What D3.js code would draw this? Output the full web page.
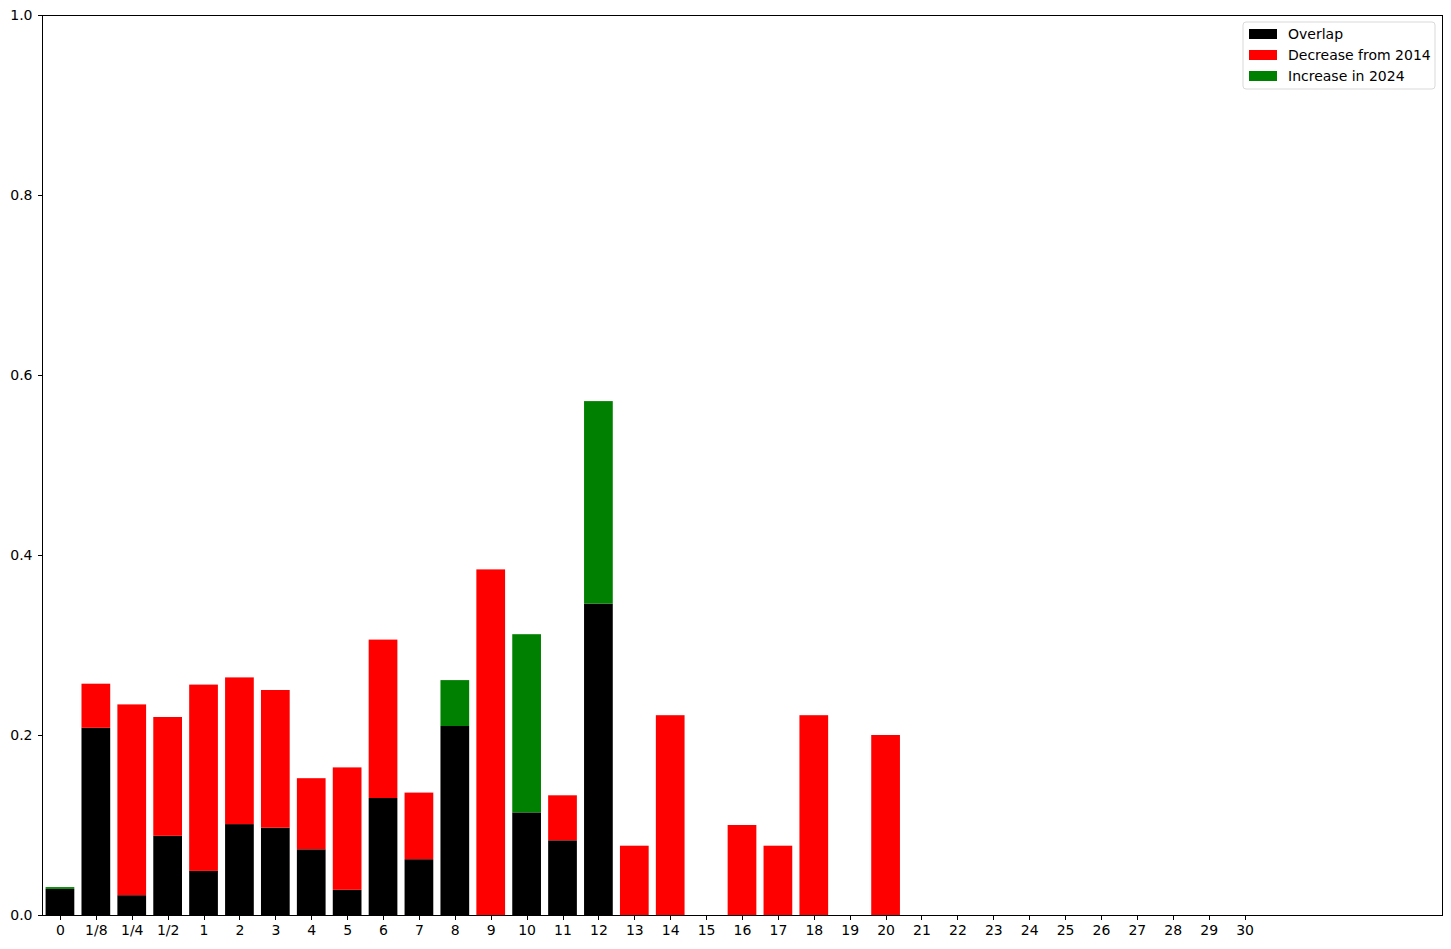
<!DOCTYPE html>
<html>
<head>
<meta charset="utf-8">
<script src="https://cdn.jsdelivr.net/npm/d3@7"></script>
<style>
  body { margin: 0; background: #fff; }
  text { font-family: "DejaVu Sans", sans-serif; }
</style>
</head>
<body>
<script>
var margin = { top: 15, right: 9, bottom: 34, left: 42 };
var width = 1451 - margin.left - margin.right;
var height = 949 - margin.top - margin.bottom;

var categories = ["0", "1/8", "1/4", "1/2", "1", "2", "3", "4", "5", "6", "7", "8", "9", "10",
    "11", "12", "13", "14", "15", "16", "17", "18", "19", "20", "21", "22", "23", "24", "25",
    "26", "27", "28", "29", "30"];

// bottom segment: share present in both years
var overlap = [0.029, 0.208, 0.022, 0.088, 0.049, 0.101, 0.097, 0.073, 0.028, 0.130, 0.062, 0.210,
    0, 0.114, 0.083, 0.346, 0, 0, 0, 0, 0, 0, 0, 0, 0, 0, 0, 0, 0, 0, 0, 0, 0, 0];
// top segment, red
var decrease = [0, 0.049, 0.212, 0.132, 0.207, 0.163, 0.153, 0.079, 0.136, 0.176, 0.074, 0,
    0.384, 0, 0.050, 0, 0.077, 0.222, 0, 0.100, 0.077, 0.222, 0, 0.200, 0, 0, 0, 0, 0, 0, 0, 0, 0, 0];
// top segment, green
var increase = [0.002, 0, 0, 0, 0, 0, 0, 0, 0, 0, 0, 0.051, 0, 0.198, 0, 0.225,
    0, 0, 0, 0, 0, 0, 0, 0, 0, 0, 0, 0, 0, 0, 0, 0, 0, 0];

var yTicks = [0, 0.2, 0.4, 0.6, 0.8, 1.0];

var series = [
    { name: "Overlap", color: "#000000" },
    { name: "Decrease from 2014", color: "#ff0000" },
    { name: "Increase in 2024", color: "#008000" }
];

var rows = categories.map(function (c, i) {
    return { cat: c, i: i, overlap: overlap[i], decrease: decrease[i], increase: increase[i] };
});

var svg = d3.select("body")
    .append("svg")
    .attr("width", width + margin.left + margin.right)
    .attr("height", height + margin.top + margin.bottom)
    .append("g")
    .attr("transform", "translate(" + margin.left + "," + margin.top + ")");

var xscale = d3.scaleLinear()
    .domain([-0.5, 38.5])
    .range([0, width]);

var yscale = d3.scaleLinear()
    .domain([0, 1])
    .range([height, 0]);

var barW = xscale(0.8) - xscale(0);

var stack = d3.stack().keys(["overlap", "decrease", "increase"]);
var layers = stack(rows);

var layer = svg.selectAll("g.layer")
    .data(layers)
    .enter().append("g")
    .attr("class", "layer")
    .style("fill", function (d, i) { return series[i].color; });

layer.selectAll("rect")
    .data(function (d) { return d; })
    .enter().append("rect")
    .attr("x", function (d) { return xscale(d.data.i) - barW / 2; })
    .attr("width", barW)
    .attr("y", function (d) { return yscale(d[1]); })
    .attr("height", function (d) { return yscale(d[0]) - yscale(d[1]); });

var xAxis = d3.axisBottom(xscale)
    .tickValues(d3.range(categories.length))
    .tickFormat(function (d) { return categories[d]; })
    .tickSizeOuter(0)
    .tickSize(4.5)
    .tickPadding(6);

var yAxis = d3.axisLeft(yscale)
    .tickValues(yTicks)
    .tickFormat(d3.format(".1f"))
    .tickSizeOuter(0)
    .tickSize(4.5)
    .tickPadding(5);

var gx = svg.append("g")
    .attr("class", "x axis")
    .attr("transform", "translate(0," + height + ")")
    .call(xAxis);
var gy = svg.append("g")
    .attr("class", "y axis")
    .call(yAxis);

gx.select(".domain").remove();
gy.select(".domain").remove();
svg.selectAll(".axis").attr("font-size", null).attr("font-family", null);
svg.selectAll(".axis text").style("font-size", "14px").style("fill", "#000");
svg.selectAll(".axis line").style("stroke", "#000").style("stroke-width", 1)
    .style("shape-rendering", "crispEdges");

// frame
svg.append("rect")
    .attr("x", 0)
    .attr("y", 0)
    .attr("width", width)
    .attr("height", height)
    .style("fill", "none")
    .style("stroke", "#000")
    .style("stroke-width", 1)
    .style("shape-rendering", "crispEdges");

// legend
var legW = 192, legH = 67;
var legend = svg.append("g")
    .attr("transform", "translate(" + (width - legW - 7) + ",7)");

legend.append("rect")
    .attr("width", legW)
    .attr("height", legH)
    .attr("rx", 3)
    .style("fill", "#fff")
    .style("fill-opacity", 0.8)
    .style("stroke", "#d9d9d9");

var item = legend.selectAll(".legend")
    .data(series)
    .enter().append("g")
    .attr("class", "legend")
    .attr("transform", function (d, i) { return "translate(6," + (7 + i * 21) + ")"; });

item.append("rect")
    .attr("width", 28)
    .attr("height", 10)
    .style("fill", function (d) { return d.color; });

item.append("text")
    .attr("x", 39)
    .attr("y", 5)
    .attr("dy", ".35em")
    .style("font-size", "14px")
    .text(function (d) { return d.name; });
</script>
</body>
</html>
